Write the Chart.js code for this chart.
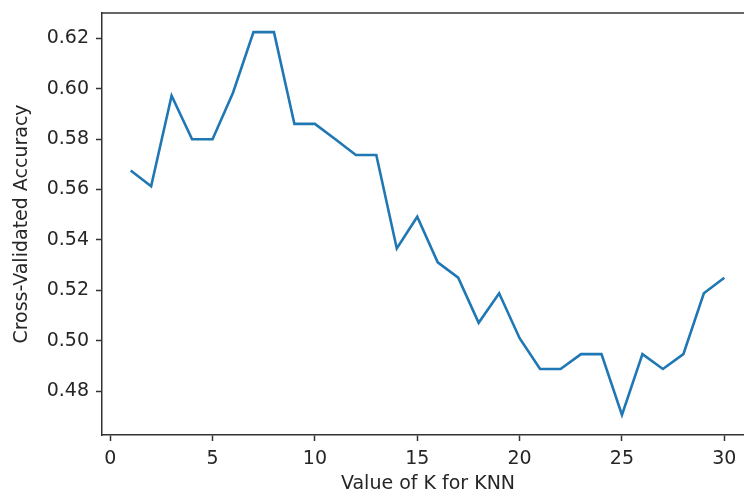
<!DOCTYPE html>
<html>
<head>
<meta charset="utf-8">
<script src="https://cdn.jsdelivr.net/npm/chart.js@4/dist/chart.umd.min.js"></script>
<style>
  html, body { margin: 0; padding: 0; background: #fff; overflow: hidden; }
  #wrap { position: relative; width: 744px; height: 496px; overflow: hidden; }
  #knnChart { display: block; }
</style>
</head>
<body>
<div id="wrap"><canvas id="knnChart" width="754" height="496"></canvas></div>
<script>
// K values tried and the mean cross-validated accuracy for each
var kValues = [1, 2, 3, 4, 5, 6, 7, 8, 9, 10, 11, 12, 13, 14, 15,
               16, 17, 18, 19, 20, 21, 22, 23, 24, 25, 26, 27, 28, 29, 30];
var accuracy = [0.5675, 0.5613, 0.5972, 0.5799, 0.5799, 0.5984, 0.6224, 0.6224, 0.5860, 0.5860,
                0.5799, 0.5737, 0.5737, 0.5366, 0.5492, 0.5311, 0.5250, 0.5071, 0.5188, 0.5010,
                0.4888, 0.4888, 0.4947, 0.4947, 0.4706, 0.4947, 0.4888, 0.4947, 0.5188, 0.5250];

var xTicks = [0, 5, 10, 15, 20, 25, 30];
var yTicks = [0.48, 0.50, 0.52, 0.54, 0.56, 0.58, 0.60, 0.62];

var axisColor = '#333333';
var textColor = '#262626';
var fontFamily = '"DejaVu Sans", sans-serif';

// matplotlib style top spine; the right one sits past the window edge
var topSpine = {
    id: 'topSpine',
    afterDraw: function (chart) {
        var a = chart.chartArea;
        var ctx = chart.ctx;
        ctx.save();
        ctx.strokeStyle = axisColor;
        ctx.lineWidth = 1.5;
        ctx.beginPath();
        ctx.moveTo(a.left - 0.75, a.top);
        ctx.lineTo(a.right, a.top);
        ctx.stroke();
        ctx.restore();
    }
};

// drop the half-label padding chart.js keeps around each axis
function noPadding(scale) {
    scale.paddingTop = 0;
    scale.paddingBottom = 0;
    scale.paddingLeft = 0;
    scale.paddingRight = 0;
}

document.addEventListener('DOMContentLoaded', function () {
    var ctx = document.getElementById('knnChart').getContext('2d');
    var points = kValues.map(function (k, i) { return { x: k, y: accuracy[i] }; });

    new Chart(ctx, {
        type: 'line',
        data: {
            datasets: [{
                label: 'Cross-Validated Accuracy',
                data: points,
                borderColor: '#1f77b4',
                backgroundColor: '#1f77b4',
                borderWidth: 2.6,
                pointRadius: 0,
                tension: 0,
                fill: false
            }]
        },
        options: {
            responsive: false,
            animation: false,
            devicePixelRatio: 1,
            layout: { padding: { top: 13, left: 0, right: 0, bottom: 0 } },
            plugins: {
                legend: { display: false },
                tooltip: { enabled: false }
            },
            scales: {
                x: {
                    type: 'linear',
                    min: -0.4,
                    max: 31.45,
                    afterFit: function (scale) { scale.height = 61; noPadding(scale); },
                    afterBuildTicks: function (scale) {
                        scale.ticks = xTicks.map(function (v) { return { value: v }; });
                    },
                    ticks: {
                        color: textColor,
                        font: { family: fontFamily, size: 19 },
                        padding: 7,
                        maxRotation: 0,
                        callback: function (v) { return String(v); }
                    },
                    grid: {
                        drawOnChartArea: false,
                        drawTicks: true,
                        tickLength: 6,
                        tickWidth: 1.5,
                        color: axisColor
                    },
                    border: { display: true, color: axisColor, width: 1.5 },
                    title: {
                        display: true,
                        text: 'Value of K for KNN',
                        color: textColor,
                        font: { family: fontFamily, size: 19 },
                        padding: { top: 0, bottom: 1 }
                    }
                },
                y: {
                    type: 'linear',
                    min: 0.4626,
                    max: 0.6300,
                    afterFit: function (scale) { scale.width = 102; noPadding(scale); },
                    afterBuildTicks: function (scale) {
                        scale.ticks = yTicks.map(function (v) { return { value: v }; });
                    },
                    ticks: {
                        color: textColor,
                        font: { family: fontFamily, size: 19 },
                        padding: 7,
                        callback: function (v) { return Number(v).toFixed(2); }
                    },
                    grid: {
                        drawOnChartArea: false,
                        drawTicks: true,
                        tickLength: 6,
                        tickWidth: 1.5,
                        color: axisColor
                    },
                    border: { display: true, color: axisColor, width: 1.5 },
                    title: {
                        display: true,
                        text: 'Cross-Validated Accuracy',
                        color: textColor,
                        font: { family: fontFamily, size: 19 },
                        padding: { top: 11, bottom: 0 }
                    }
                }
            }
        },
        plugins: [topSpine]
    });
});
</script>
</body>
</html>
